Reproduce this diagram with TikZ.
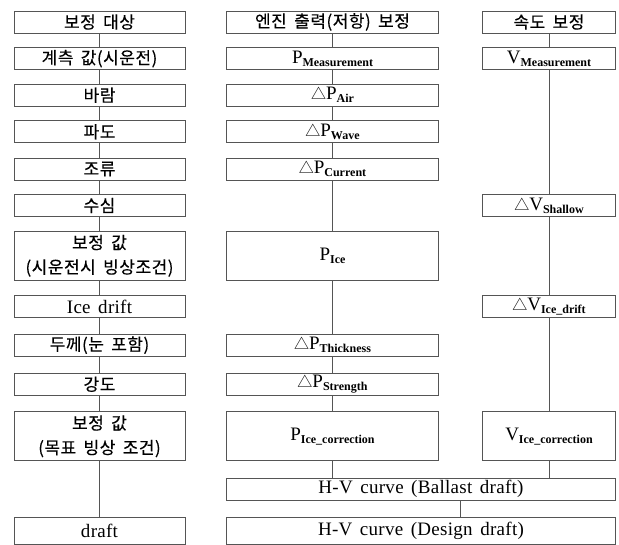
\documentclass[tikz,border=0pt]{standalone}
\usepackage{fontspec}
\setmainfont{Liberation Serif}
\newfontfamily\kr[FakeBold=0.3,LetterSpace=3,WordSpace=1.7]{Noto Sans CJK KR}
\newfontfamily\krtri{Noto Sans CJK KR}
\newfontfamily\latw[LetterSpace=1.5,WordSpace=1.5]{Liberation Serif}
\newcommand{\lowtxt}[1]{\raisebox{-3pt}{\fontsize{12}{12}\selectfont\bfseries #1}}
\newcommand{\bigP}[1]{{\fontsize{19}{19}\selectfont #1}}
\newcommand{\tri}{{\krtri\fontsize{15}{15}\selectfont △}}
\definecolor{linec}{HTML}{555555}
\begin{document}
\begin{tikzpicture}[x=1pt,y=-1pt,
  box/.style={draw=linec, line width=0.9pt, inner sep=0pt, anchor=center, align=center},
  c1/.style={box, minimum width=171pt},
  c2/.style={box, minimum width=212pt},
  c3/.style={box, minimum width=133pt},
  cw/.style={box, minimum width=389pt},
  rs/.style={minimum height=22pt},
  rt/.style={minimum height=48.5pt},
  krt/.style={font=\kr\fontsize{17}{24.5}\selectfont},
  lat/.style={font=\latw\fontsize{19}{19}\selectfont},
  conn/.style={draw=linec, line width=0.9pt}]
\useasboundingbox (0,0) rectangle (619,545);

% column 1
\node[c1,rs,krt] (a1) at (99.5,22) {보정 대상};
\node[c1,rs,krt] (a2) at (99.5,58.7) {계측 값(시운전)};
\node[c1,rs,krt] (a3) at (99.5,95.2) {바람};
\node[c1,rs,krt] (a4) at (99.5,131.8) {파도};
\node[c1,rs,krt] (a5) at (99.5,169) {조류};
\node[c1,rs,krt] (a6) at (99.5,205.5) {수심};
\node[c1,rt,krt] (a7) at (99.5,255.8) {보정 값\\(시운전시 빙상조건)};
\node[c1,rs,lat] (a8) at (99.5,306.5) {Ice drift};
\node[c1,rs,krt] (a9) at (99.5,345.2) {두께(눈 포함)};
\node[c1,rs,krt] (a10) at (99.5,384.3) {강도};
\node[c1,minimum height=49.3pt,krt] (a11) at (99.5,436.3) {보정 값\\(목표 빙상 조건)};
\node[c1,minimum height=26.7pt,lat] (a12) at (99.5,530.7) {draft};

% column 2
\node[c2,rs,krt] (b1) at (332.5,22) {엔진 출력(저항) 보정};
\node[c2,rs] (b2) at (332.5,58.7) {\bigP{P}\lowtxt{Measurement}};
\node[c2,rs] (b3) at (332.5,95.2) {\tri\bigP{P}\lowtxt{Air}};
\node[c2,rs] (b4) at (332.5,131.8) {\tri\bigP{P}\lowtxt{Wave}};
\node[c2,rs] (b5) at (332.5,169) {\tri\bigP{P}\lowtxt{Current}};
\node[c2,rt] (b7) at (332.5,255.8) {\bigP{P}\lowtxt{Ice}};
\node[c2,rs] (b9) at (332.5,345.2) {\tri\bigP{P}\lowtxt{Thickness}};
\node[c2,rs] (b10) at (332.5,384.3) {\tri\bigP{P}\lowtxt{Strength}};
\node[c2,minimum height=49.3pt] (b11) at (332.5,436.3) {\bigP{P}\lowtxt{Ice\_correction}};

% column 3
\node[c3,rs,krt] (d1) at (549,22) {속도 보정};
\node[c3,rs] (d2) at (549,58.7) {\bigP{V}\lowtxt{Measurement}};
\node[c3,rs] (d6) at (549,205.5) {\tri\bigP{V}\lowtxt{Shallow}};
\node[c3,rs] (d8) at (549,306.5) {\tri\bigP{V}\lowtxt{Ice\_drift}};
\node[c3,minimum height=49.3pt] (d11) at (549,436.3) {\bigP{V}\lowtxt{Ice\_correction}};

% wide rows
\node[cw,rs,lat] (hb) at (421,489.2) {H-V curve (Ballast draft)};
\node[cw,minimum height=26.7pt,lat] (hd) at (421,530.7) {H-V curve (Design draft)};
\coordinate (hx) at (460.7,0);

% connectors
\foreach \u/\v in {a1/a2,a2/a3,a3/a4,a4/a5,a5/a6,a6/a7,a7/a8,a8/a9,a9/a10,a10/a11,a11/a12,
  b1/b2,b2/b3,b3/b4,b4/b5,b5/b7,b7/b9,b9/b10,b10/b11,
  d1/d2,d2/d6,d6/d8,d8/d11}
  \draw[conn] (\u.south) -- (\v.north);
\draw[conn] (b11.south) -- (b11.south |- hb.north);
\draw[conn] (d11.south) -- (d11.south |- hb.north);
\draw[conn] (hx |- hb.south) -- (hx |- hd.north);
\end{tikzpicture}
\end{document}
